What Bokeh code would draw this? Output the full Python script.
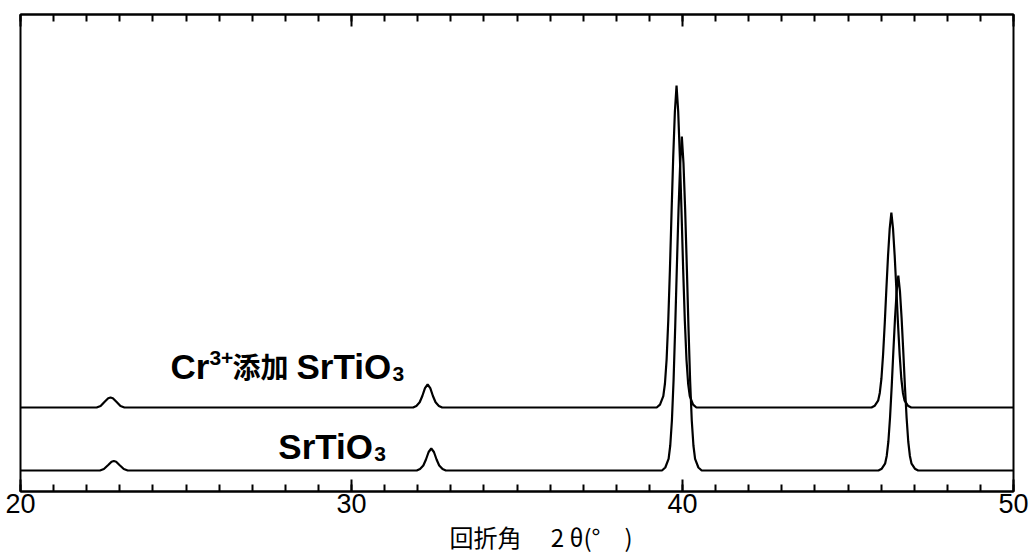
from bokeh.plotting import figure
from bokeh.models import Range1d, LinearAxis, SingleIntervalTicker, Label
from bokeh.embed import file_html
from bokeh.resources import INLINE

# ---------------- data ----------------
# pure SrTiO3 : 2theta (deg) and intensity (arb. units, baseline 0)
pure_2theta = [20.00, 22.40, 22.52, 22.65, 22.75, 22.82, 22.89, 22.99, 23.12, 23.24,
               31.97, 32.07, 32.17, 32.25, 32.33, 32.41, 32.49, 32.57, 32.65, 32.75, 32.85,
               39.38, 39.48, 39.58, 39.63, 39.68, 39.73, 39.78, 39.83, 39.88, 39.93, 39.98,
               40.03, 40.08, 40.13, 40.18, 40.23, 40.28, 40.33, 40.38, 40.48, 40.58,
               45.92, 46.02, 46.12, 46.17, 46.22, 46.27, 46.32, 46.37, 46.42, 46.47, 46.52,
               46.57, 46.62, 46.67, 46.72, 46.77, 46.82, 46.87, 46.92, 47.02, 47.12,
               50.00]
pure_intensity = [0, 0, 1.5, 5.5, 8.8, 9.5, 8.8, 5.5, 1.5, 0,
                  0, 1.5, 5, 11, 18.5, 22, 18.5, 11, 5, 1.5, 0,
                  0, 3, 11.7, 25, 50, 90, 144, 204, 261, 307, 334,
                  307, 261, 204, 144, 90, 50, 25, 11.7, 3, 0,
                  0, 1.8, 6.8, 14.6, 29, 53, 84, 119, 152, 179, 195,
                  179, 152, 119, 84, 53, 29, 14.6, 6.8, 1.8, 0,
                  0]

# Cr3+-doped SrTiO3 : 2theta (deg) and intensity (arb. units, own baseline 0)
cr_2theta = [20.00, 22.30, 22.42, 22.55, 22.65, 22.72, 22.79, 22.89, 23.02, 23.14,
             31.86, 31.96, 32.06, 32.14, 32.22, 32.30, 32.38, 32.46, 32.54, 32.64, 32.74,
             39.22, 39.32, 39.42, 39.47, 39.52, 39.57, 39.62, 39.67, 39.72, 39.77, 39.82,
             39.87, 39.92, 39.97, 40.02, 40.07, 40.12, 40.17, 40.22, 40.32, 40.42,
             45.71, 45.81, 45.91, 45.96, 46.01, 46.06, 46.11, 46.16, 46.21, 46.26, 46.31,
             46.36, 46.41, 46.46, 46.51, 46.56, 46.61, 46.66, 46.71, 46.81, 46.91,
             50.00]
cr_intensity = [0, 0, 1.5, 6, 9.3, 10, 9.3, 6, 1.5, 0,
                0, 1.6, 5.2, 11.5, 19.3, 23, 19.3, 11.5, 5.2, 1.6, 0,
                0, 2.9, 11.3, 24, 48, 87, 138, 196, 251, 296, 322,
                296, 251, 196, 138, 87, 48, 24, 11.3, 2.9, 0,
                0, 1.8, 6.8, 14.6, 29, 53, 84, 119, 152, 179, 195,
                179, 152, 119, 84, 53, 29, 14.6, 6.8, 1.8, 0,
                0]
cr_offset = 63  # vertical stacking offset of the doped pattern

x_title = "\u3000\u3000回折角\u3000 2 θ(°\u3000)"

# ---------------- figure ----------------
p = figure(frame_width=993, frame_height=477,
           x_range=Range1d(20, 50), y_range=Range1d(-21, 456),
           output_backend="svg", toolbar_location=None,
           min_border_left=20, min_border_right=17,
           min_border_top=14, min_border_bottom=10)
p.background_fill_color = "white"
p.border_fill_color = "white"
p.grid.visible = False
p.yaxis.visible = False
p.outline_line_color = "black"
p.outline_line_width = 2


def style_axis(ax, labels=True):
    ax.ticker = SingleIntervalTicker(interval=10, num_minor_ticks=10)
    ax.axis_line_color = "black"
    ax.axis_line_width = 2
    ax.major_tick_in = 12
    ax.major_tick_out = 0
    ax.minor_tick_in = 7
    ax.minor_tick_out = 0
    ax.major_tick_line_width = 2
    ax.minor_tick_line_width = 2
    ax.major_tick_line_color = "black"
    ax.minor_tick_line_color = "black"
    if labels:
        ax.major_label_text_font = "Liberation Sans"
        ax.major_label_text_font_size = "27px"
        ax.major_label_text_color = "black"
        ax.major_label_standoff = 2
    else:
        ax.major_label_overrides = {20: "", 30: "", 40: "", 50: ""}
        ax.major_label_text_font_size = "1px"
        ax.major_label_standoff = 0


xa = p.xaxis[0]
style_axis(xa)
xa.axis_label = x_title
xa.axis_label_text_font = "Noto Sans CJK JP"
xa.axis_label_text_font_size = "24px"
xa.axis_label_text_font_style = "normal"
xa.axis_label_text_color = "black"
xa.axis_label_standoff = 3

top = LinearAxis()
style_axis(top, labels=False)
p.add_layout(top, "above")

p.line(pure_2theta, pure_intensity, line_color="black", line_width=2.2)
p.line(cr_2theta, [v + cr_offset for v in cr_intensity], line_color="black", line_width=2.2)

LAT = "Liberation Sans"
JP = "Noto Sans CJK JP"


def lab(x, y, text, font, size, xoff=0):
    p.add_layout(Label(x=x, y=y, x_offset=xoff, text=text, text_font=font,
                       text_font_size=size, text_font_style="bold",
                       text_color="black", text_baseline="alphabetic", text_align="left"))


# Cr3+添加 SrTiO3
cx = 24.53
lab(cx, 104, "Cr", LAT, "35px")
lab(cx, 113, "3+", LAT, "21px", xoff=39)
lab(cx, 105, "添加", JP, "28px", xoff=62)
lab(cx, 104, "SrTiO", LAT, "35px", xoff=126)
lab(cx, 97, "3", LAT, "21px", xoff=222)

# SrTiO3
sx = 27.79
lab(sx, 24, "SrTiO", LAT, "35px")
lab(sx, 17, "3", LAT, "21px", xoff=96)

open("out.html", "w").write(file_html(p, INLINE))
